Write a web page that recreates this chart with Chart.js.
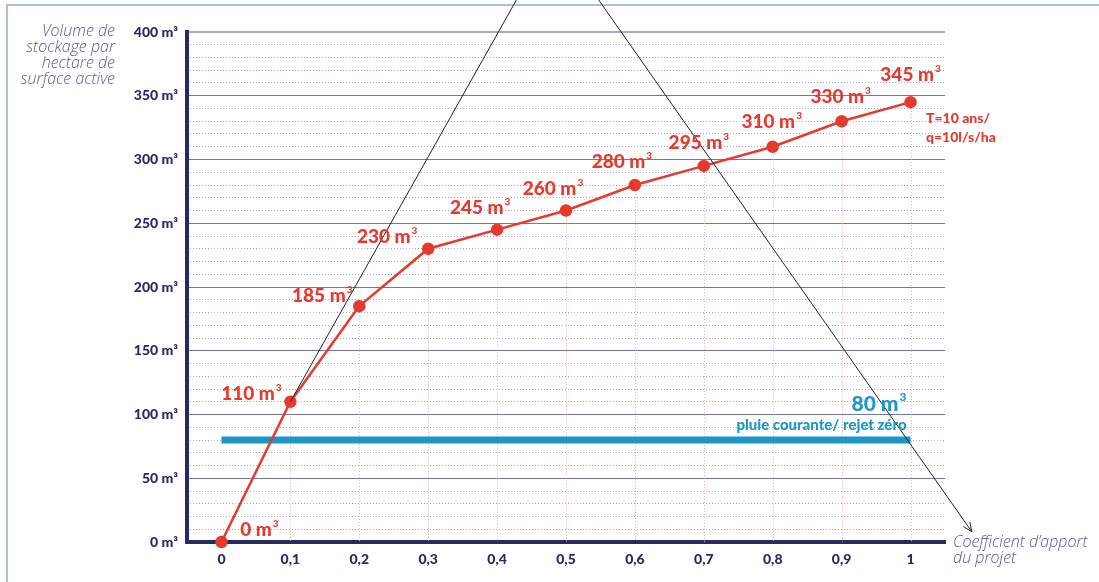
<!DOCTYPE html>
<html>
<head>
<meta charset="UTF-8">
<title>Volume de stockage</title>
<script src="https://cdn.jsdelivr.net/npm/chart.js"></script>
<style>
  html, body { margin: 0; padding: 0; background: #fff; }
  #wrap { width: 1099px; height: 582px; position: relative; }
</style>
</head>
<body>
<div id="wrap"><canvas id="chart" width="1099" height="582"></canvas></div>
<script>
// data
const coefficients = [0, 0.1, 0.2, 0.3, 0.4, 0.5, 0.6, 0.7, 0.8, 0.9, 1];
const volumes = [0, 110, 185, 230, 245, 260, 280, 295, 310, 330, 345];
const yTicks = [0, 50, 100, 150, 200, 250, 300, 350, 400];
const rainVolume = 80;
const rainLabel = 'pluie courante/ rejet zéro';
const returnLabel = ['T=10 ans/', 'q=10l/s/ha'];
const guideUp = [{ x: 0.1, y: 110 }, { x: 0.43, y: 427 }];
const guideDown = [{ x: 0.545, y: 427 }, { x: 1.089, y: 8 }];
const yTitle = ['Volume de', 'stockage par', 'hectare de', 'surface active'];
const xTitle = ['Coefficient d\u2019apport', 'du projet'];

const RED = '#e53a2d';
const BLUE = '#1d96c8';
const NAVY = '#2a2862';
const TITLE = '#5b5890';

// label offsets (px) from each point to the centre of its text
const labelOffsets = [[38, -12], [-39, -8], [-37, -10], [-41, -12], [-17, -22], [-13, -22],
  [-13, -23], [-5, -23], [-1, -25], [-1, -24], [0, -27]];

function drawSup(ctx, main, sup, x, y, size, align) {
  ctx.font = `900 ${size}px Lato`;
  const w1 = ctx.measureText(main).width;
  ctx.font = `900 ${Math.round(size * 0.55)}px Lato`;
  const w2 = ctx.measureText(sup).width;
  const total = w1 + w2 + 1;
  let left = x - total / 2;
  if (align === 'right') left = x - total;
  if (align === 'left') left = x;
  ctx.textAlign = 'left';
  ctx.textBaseline = 'middle';
  ctx.font = `900 ${size}px Lato`;
  ctx.fillText(main, left, y);
  ctx.font = `900 ${Math.round(size * 0.55)}px Lato`;
  ctx.fillText(sup, left + w1 + 1, y - size * 0.32);
}

const decor = {
  id: 'decor',
  beforeDraw(chart) {
    const ctx = chart.ctx;
    ctx.save();
    ctx.strokeStyle = '#a9c1de';
    ctx.lineWidth = 2;
    ctx.beginPath();
    ctx.moveTo(7, 582);
    ctx.lineTo(7, 5);
    ctx.lineTo(1099, 5);
    ctx.stroke();
    ctx.restore();
  },
  beforeDatasetsDraw(chart) {
    const ctx = chart.ctx;
    const meta = chart.getDatasetMeta(0);
    const bottom = chart.scales.y.getPixelForValue(0);
    ctx.save();
    ctx.strokeStyle = '#f2aaa4';
    ctx.lineWidth = 1;
    ctx.setLineDash([1, 2]);
    meta.data.forEach((p) => {
      ctx.beginPath();
      ctx.moveTo(Math.round(p.x) + 0.5, p.y);
      ctx.lineTo(Math.round(p.x) + 0.5, bottom);
      ctx.stroke();
    });
    ctx.restore();
  },
  afterDatasetsDraw(chart) {
    const ctx = chart.ctx;
    const { x, y } = chart.scales;
    const meta = chart.getDatasetMeta(0);
    ctx.save();
    ctx.fillStyle = RED;
    meta.data.forEach((p, i) => {
      const [dx, dy] = labelOffsets[i];
      drawSup(ctx, volumes[i] + ' m', '3', p.x + dx, p.y + dy, 19, 'center');
    });

    // arrow head on the descending guide
    const g = chart.getDatasetMeta(2).data;
    const a = g[0], b = g[1];
    const ang = Math.atan2(b.y - a.y, b.x - a.x);
    ctx.strokeStyle = '#222';
    ctx.lineWidth = 1;
    ctx.beginPath();
    ctx.moveTo(b.x - 10 * Math.cos(ang - 0.4), b.y - 10 * Math.sin(ang - 0.4));
    ctx.lineTo(b.x, b.y);
    ctx.lineTo(b.x - 10 * Math.cos(ang + 0.4), b.y - 10 * Math.sin(ang + 0.4));
    ctx.stroke();

    // return period note
    ctx.fillStyle = RED;
    ctx.font = '900 14px Lato';
    ctx.textAlign = 'left';
    ctx.textBaseline = 'middle';
    ctx.fillText(returnLabel[0], 926, 118);
    ctx.fillText(returnLabel[1], 926, 137);

    // rain level labels
    const xr = x.getPixelForValue(1) - 4;
    const yr = y.getPixelForValue(rainVolume);
    ctx.fillStyle = BLUE;
    drawSup(ctx, rainVolume + ' m', '3', xr, yr - 36, 21, 'right');
    ctx.font = '900 15px Lato';
    ctx.textAlign = 'right';
    ctx.fillText(rainLabel, xr, yr - 15);

    // axis titles
    ctx.fillStyle = TITLE;
    ctx.font = 'italic 300 16px "Open Sans"';
    ctx.textAlign = 'right';
    yTitle.forEach((t, i) => ctx.fillText(t, 115, 31 + i * 16));
    ctx.textAlign = 'left';
    xTitle.forEach((t, i) => ctx.fillText(t, 953, 542 + i * 16));
    ctx.restore();
  }
};

new Chart(document.getElementById('chart'), {
  type: 'line',
  data: {
    datasets: [
      {
        data: coefficients.map((c, i) => ({ x: c, y: volumes[i] })),
        borderColor: RED,
        backgroundColor: RED,
        borderWidth: 2.5,
        pointRadius: 5,
        pointHoverRadius: 5,
        order: 1,
        clip: false
      },
      {
        data: guideUp,
        borderColor: '#222',
        borderWidth: 1,
        pointRadius: 0,
        order: 0,
        clip: false
      },
      {
        data: guideDown,
        borderColor: '#222',
        borderWidth: 1,
        pointRadius: 0,
        order: 0,
        clip: false
      },
      {
        data: [{ x: coefficients[0], y: rainVolume }, { x: coefficients[coefficients.length - 1], y: rainVolume }],
        borderColor: BLUE,
        borderWidth: 7,
        borderCapStyle: 'butt',
        pointRadius: 0,
        order: 2
      }
    ]
  },
  options: {
    responsive: false,
    animation: false,
    events: [],
    layout: { padding: { top: 32, right: 154, bottom: 0, left: 0 } },
    plugins: { legend: { display: false }, tooltip: { enabled: false } },
    scales: {
      x: {
        type: 'linear',
        min: -0.05,
        max: 1.05,
        afterBuildTicks: (s) => { s.ticks = coefficients.map((v) => ({ value: v })); },
        afterFit: (s) => { s.height = 40; },
        grid: { drawOnChartArea: false, drawTicks: false },
        border: { display: true, color: NAVY, width: 4 },
        ticks: {
          padding: 9,
          color: NAVY,
          font: { family: 'Lato', weight: '900', size: 14 },
          callback: (v) => (Number.isInteger(v) ? String(v) : v.toFixed(1).replace('.', ','))
        }
      },
      y: {
        min: 0,
        max: 400,
        afterBuildTicks: (s) => { s.ticks = yTicks.map((v) => ({ value: v })); },
        afterFit: (s) => { s.width = 187; },
        grid: {
          drawTicks: false,
          color: (c) => (c.tick && c.tick.value === 400 ? '#aaa8cb' : '#7773aa'),
          lineWidth: (c) => (c.tick && c.tick.value === 400 ? 2 : 1)
        },
        border: { display: true, color: NAVY, width: 4 },
        ticks: {
          padding: 9,
          color: NAVY,
          font: { family: 'Lato', weight: '900', size: 14 },
          callback: (v) => v + ' m\u00b3'
        }
      },
      y2: {
        position: 'left',
        min: 0,
        max: 400,
        ticks: { display: false, stepSize: 10 },
        afterFit: (s) => { s.width = 0; },
        grid: {
          drawTicks: false,
          color: (c) => (c.tick && c.tick.value % 50 === 0 ? 'rgba(0,0,0,0)' : '#a9a6c9'),
          lineWidth: 1
        },
        border: { display: false, dash: [1, 2] }
      }
    }
  },
  plugins: [decor]
});
</script>
</body>
</html>
